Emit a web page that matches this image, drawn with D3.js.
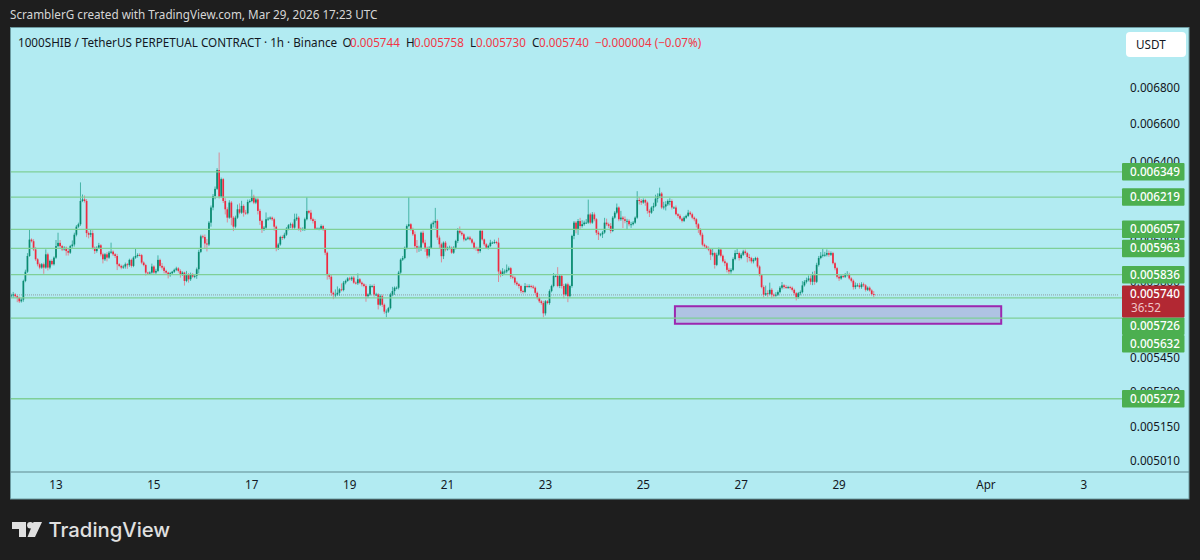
<!DOCTYPE html>
<html><head><meta charset="utf-8">
<script src="https://d3js.org/d3.v7.min.js"></script>
<style>
html,body{margin:0;padding:0;background:#1e1e1e;overflow:hidden}
svg{display:block}
text{font-family:"Noto Sans",sans-serif}
</style></head><body>
<svg id="c" width="1200" height="560"></svg>
<script>
// Prices are in millionths (5740 = 0.005740)
const lastTime = Date.UTC(2026, 2, 29, 17);
const closes = [
5738,5742,5734,5726,5710,5718,5806,5850,5926,6006,5998,5958,5910,5886,5870,5886,5870,5934,5870,
5902,5886,5918,5974,5990,5974,5958,5966,5950,5942,5974,5982,6030,6070,6082,6199,6207,6199,6038,6030,
6038,5966,5950,5966,5978,5934,5910,5934,5918,5942,5947,5934,5926,5886,5878,5870,5875,5886,5882,5907,
5878,5918,5926,5931,5930,5894,5882,5846,5843,5846,5875,5846,5854,5907,5878,5870,5854,5846,5834,5843,
5850,5859,5866,5854,5838,5846,5806,5838,5814,5838,5827,5830,5862,5946,6022,6019,5987,5982,6090,6166,
6224,6261,6358,6221,6311,6199,6157,6115,6191,6115,6070,6115,6157,6140,6174,6140,6137,6194,6199,6221,6191,
6207,6149,6099,6057,6065,6107,6110,6115,6107,6070,5963,5982,6019,6014,6030,6060,6077,6082,6065,6107,
6115,6060,6057,6057,6107,6148,6140,6107,6098,6060,6060,6060,6073,6057,5942,5834,5826,5750,5742,5742,5750,
5766,5763,5798,5806,5818,5814,5822,5798,5795,5814,5798,5790,5782,5734,5742,5782,5782,5742,5742,5694,
5734,5694,5662,5662,5678,5742,5758,5774,5774,5846,5908,5916,5966,6073,6082,6057,6032,5974,5966,5966,
6040,5991,5966,5928,5966,6082,6090,6098,6016,5983,5925,5991,5958,5966,5966,5942,5966,5999,6049,6040,
6032,6007,6010,6016,6007,5991,5966,5961,5950,6049,6007,5983,5966,5975,5991,5991,5994,5991,5851,5838,
5851,5851,5859,5867,5826,5822,5798,5790,5782,5758,5754,5782,5779,5782,5779,5774,5750,5726,5710,5702,
5654,5710,5702,5758,5782,5830,5830,5782,5830,5782,5742,5790,5734,5782,6024,6090,6057,6098,6073,6082,
6090,6090,6131,6090,6131,6107,6040,6032,6032,6041,6090,6082,6074,6049,6115,6140,6166,6107,6115,6107,
6099,6099,6082,6082,6090,6115,6204,6199,6191,6204,6191,6149,6140,6166,6174,6211,6224,6237,6166,6171,
6182,6199,6199,6166,6166,6132,6124,6110,6099,6115,6124,6140,6132,6115,6107,6082,6057,6030,5981,5973,
5965,5957,5932,5940,5883,5932,5957,5927,5900,5891,5859,5851,5859,5911,5940,5940,5916,5932,5948,5940,
5921,5916,5900,5908,5916,5875,5834,5777,5741,5748,5745,5764,5741,5737,5741,5753,5774,5785,5777,5774,
5777,5774,5764,5748,5728,5748,5753,5785,5802,5810,5818,5802,5834,5802,5883,5916,5927,5932,5932,5940,
5932,5940,5891,5867,5826,5818,5829,5826,5834,5839,5818,5807,5777,5785,5785,5777,5790,5785,5764,5774,
5761,5744,5740];
const wickUp = [
8,12,6,4,6,8,6,10,14,50,6,10,12,6,8,6,8,24,8,
6,8,6,30,50,14,6,8,6,10,6,20,10,8,8,95,25,20,10,8,
16,14,6,8,12,6,8,6,10,8,44,6,6,10,6,6,8,8,6,6,
6,6,34,8,8,6,6,6,4,6,14,6,10,22,6,14,8,6,4,6,
4,6,8,6,8,6,4,16,6,8,6,6,8,10,8,8,12,22,8,10,
10,12,10,92,8,6,14,10,12,8,8,10,24,30,26,8,14,12,8,36,10,
8,8,10,6,8,34,8,6,6,8,6,8,6,8,10,8,6,8,8,28,
20,8,6,10,8,70,6,14,8,10,6,6,8,6,6,6,8,10,6,24,30,
6,28,8,6,6,8,6,8,6,28,6,6,6,8,6,8,6,10,8,6,
8,8,6,10,6,8,20,6,6,8,6,10,6,8,137,6,8,14,30,10,
6,10,14,6,8,8,10,66,8,10,8,6,8,6,10,6,8,6,14,22,
8,6,6,6,8,6,6,6,10,6,6,4,6,6,14,6,12,6,24,8,
16,10,26,8,6,8,6,8,6,6,6,14,8,8,6,8,6,6,6,6,
10,6,6,8,6,14,8,42,8,8,10,6,8,6,6,8,8,10,16,20,
10,18,75,8,12,10,6,10,6,8,24,20,8,14,8,8,20,6,34,8,
14,10,8,12,8,6,45,16,10,8,6,6,8,6,16,20,14,30,8,24,
16,8,14,8,6,10,6,8,6,8,6,14,8,8,6,6,6,6,10,6,
6,8,6,24,6,10,10,8,6,10,6,10,8,8,14,24,8,8,8,10,
6,14,6,8,6,6,6,6,8,36,14,34,8,6,12,8,8,16,6,10,
6,6,6,6,6,6,8,20,8,12,14,14,16,20,10,10,18,28,14,18,
12,8,6,6,6,8,8,6,10,14,6,6,6,14,10,12,10,8,6,6,
6,6,14];
const wickDown = [
8,12,6,20,8,6,10,6,6,4,6,8,8,10,8,6,30,6,14,
8,6,6,6,6,8,8,6,22,14,6,8,10,8,6,8,6,8,20,18,
12,8,14,8,6,10,20,8,18,6,6,8,10,28,6,8,6,10,18,8,
8,6,6,8,6,8,6,14,6,8,6,6,8,6,8,10,12,6,16,8,
6,6,6,8,16,8,22,6,16,8,6,8,14,20,6,8,22,34,8,20,
14,16,6,10,6,10,26,24,6,38,22,8,6,8,6,20,8,6,6,6,8,
8,18,20,18,8,6,8,6,8,20,14,8,6,10,6,6,8,14,8,6,
8,10,14,6,8,6,8,8,12,6,6,8,6,8,12,22,12,14,22,14,6,
14,6,6,8,4,6,8,6,6,8,6,10,6,26,8,6,8,10,8,22,
6,10,10,26,6,6,8,18,8,8,6,6,6,8,6,8,8,10,24,20,
16,8,20,14,8,6,16,28,12,22,30,14,10,6,8,6,6,8,10,8,
8,10,8,6,6,8,8,10,12,8,6,8,6,8,6,6,6,8,50,14,
8,14,8,6,10,8,10,8,12,10,8,6,6,6,8,6,8,8,8,8,
18,10,6,8,6,6,6,6,10,12,18,8,28,6,8,16,20,28,14,8,
8,6,6,8,6,10,12,28,10,18,6,8,10,12,6,6,8,10,8,44,
12,44,10,18,6,6,6,18,12,6,16,14,22,6,18,6,20,10,8,10,
20,8,22,10,6,6,10,6,8,6,6,6,6,8,10,16,18,8,8,6,
6,8,26,8,18,6,6,8,6,14,12,16,10,6,6,6,12,6,6,8,
26,16,10,10,6,8,6,6,12,6,14,6,16,8,6,6,6,8,8,6,
6,8,8,10,14,6,10,6,6,8,6,14,16,14,6,8,6,8,10,8,
10,6,6,10,8,12,6,6,6,6,6,8,12,10,6,8,8,8,8,6,
6,6,10];
const firstOpen = 5734;

const levels = [6349, 6219, 6057, 5963, 5836, 5726, 5632, 5272];
const priceTicks = [6800, 6600, 6400, 6200, 6000, 5800, 5600, 5450, 5300, 5150, 5010];
const lastPrice = 5740;
const countdown = "36:52";
const zoneHigh = 5687, zoneLow = 5606;
const zoneStart = Date.UTC(2026, 2, 25, 15, 30), zoneEnd = Date.UTC(2026, 3, 1, 7, 30);
const dayTicks = [[2,13,"13"],[2,15,"15"],[2,17,"17"],[2,19,"19"],[2,21,"21"],[2,23,"23"],[2,25,"25"],[2,27,"27"],[2,29,"29"],[3,1,"Apr"],[3,3,"3"]];
const titleText = "1000SHIB / TetherUS PERPETUAL CONTRACT · 1h · Binance";
const ohlcLabels = [["O","0.005744"],["H","0.005758"],["L","0.005730"],["C","0.005740"]];
const changeLabel = "−0.000004 (−0.07%)";
const headerText = "ScramblerG created with TradingView.com, Mar 29, 2026 17:23 UTC";

const W = 1200, H = 560, FS = 11.7;
const pane = {l:10.5, t:27.5, r:1189, b:499, axis:472, labelX:1122, labelR:1184.5};
const x = d3.scaleTime().domain([Date.UTC(2026,2,13), Date.UTC(2026,3,3)]).range([56, 1083.8]);
const y = d3.scaleLog().domain([5010, 6800]).range([461, 88]);
const fmt = v => (v/1e6).toFixed(6);

const svg = d3.select("#c");
svg.append("rect").attr("width",W).attr("height",H).attr("fill","#1e1e1e");
svg.append("text").attr("x",10).attr("y",19).attr("fill","#d6d6d6").attr("font-size",FS).text(headerText);
svg.append("rect").attr("x",pane.l).attr("y",pane.t).attr("width",pane.r-pane.l).attr("height",pane.b-pane.t).attr("fill","#b2ebf2").attr("stroke","#6c9aa0").attr("stroke-width",1);
svg.append("line").attr("x1",pane.l).attr("x2",pane.r).attr("y1",pane.axis).attr("y2",pane.axis).attr("stroke","#5f8a90").attr("stroke-width",1.2);

svg.append("defs").append("clipPath").attr("id","plot").append("rect").attr("x",11).attr("y",28).attr("width",1108).attr("height",444);
const plot = svg.append("g").attr("clip-path","url(#plot)");

// tick labels
svg.append("g").selectAll("text").data(priceTicks).join("text")
  .attr("x",1180).attr("y",d=>y(d)+4).attr("text-anchor","end").attr("font-size",FS).attr("fill","#131722")
  .text(fmt);

// levels
svg.append("g").selectAll("line").data(levels).join("line")
  .attr("x1",11).attr("x2",pane.labelX).attr("y1",d=>y(d)).attr("y2",d=>y(d))
  .attr("stroke","#7fcf97").attr("stroke-width",1.3);

// current price line
plot.append("line").attr("x1",11).attr("x2",1122).attr("y1",y(lastPrice)).attr("y2",y(lastPrice))
  .attr("stroke","#8f9ea3").attr("stroke-width",1).attr("stroke-dasharray","1 1");

// zone
plot.append("rect").attr("x",x(zoneStart)).attr("y",y(zoneHigh)).attr("width",x(zoneEnd)-x(zoneStart)).attr("height",y(zoneLow)-y(zoneHigh))
  .attr("fill","#aa87cc").attr("fill-opacity",0.4).attr("stroke","#9c27b0").attr("stroke-width",2);

// candles
const candles = closes.map((c,i)=>{
  const o = i ? closes[i-1] : firstOpen;
  return {t:lastTime-(closes.length-1-i)*3600e3,o,c,h:Math.max(o,c)+wickUp[i],l:Math.min(o,c)-wickDown[i]};
});
const cg = plot.append("g");
const colUp = "#0a8a70", colDn = "#ee2a40";
cg.selectAll("line").data(candles).join("line")
  .attr("x1",d=>x(d.t)).attr("x2",d=>x(d.t)).attr("y1",d=>y(d.h)).attr("y2",d=>y(d.l))
  .attr("stroke",d=>d.c>=d.o?"#22a08c":"#e86a78").attr("stroke-width",1).attr("stroke-opacity",0.75);
cg.selectAll("rect").data(candles).join("rect")
  .attr("x",d=>x(d.t)-0.85).attr("width",1.7)
  .attr("y",d=>y(Math.max(d.o,d.c))).attr("height",d=>Math.max(0.9,Math.abs(y(d.o)-y(d.c))))
  .attr("fill",d=>d.c>=d.o?colUp:colDn);

// axis labels
svg.append("g").selectAll("text").data(dayTicks).join("text")
  .attr("x",d=>x(Date.UTC(2026,d[0],d[1]))).attr("y",489).attr("text-anchor","middle").attr("font-size",FS).attr("fill","#131722")
  .text(d=>d[2]);

// price labels, pushed below the current price box when they collide
const boxH = 17.5, curTop = y(lastPrice)-9.5, curBot = curTop+32;
let cursor = -1e9;
const lab = svg.append("g");
levels.forEach(p=>{
  let cy = y(p);
  if (cy+boxH/2 > curTop && cy-boxH/2 < curBot) cy = Math.max(curBot, cursor)+boxH/2;
  else if (cy-boxH/2 < cursor && cy > curTop) cy = cursor+boxH/2;
  cursor = cy+boxH/2;
  lab.append("rect").attr("x",pane.labelX).attr("y",cy-boxH/2).attr("width",pane.labelR-pane.labelX).attr("height",boxH).attr("rx",1).attr("fill","#4caf50");
  lab.append("text").attr("x",1180).attr("y",cy+4).attr("text-anchor","end").attr("font-size",FS).attr("font-weight",500).attr("fill","#fff").text(fmt(p));
});
lab.append("rect").attr("x",pane.labelX).attr("y",curTop).attr("width",pane.labelR-pane.labelX).attr("height",32).attr("rx",1).attr("fill","#b22833");
lab.append("text").attr("x",1180).attr("y",curTop+13).attr("text-anchor","end").attr("font-size",FS).attr("font-weight",500).attr("fill","#fff").text(fmt(lastPrice));
lab.append("text").attr("x",1131).attr("y",curTop+27).attr("font-size",FS).attr("fill","#f0c4c8").text(countdown);

// USDT
svg.append("rect").attr("x",1126).attr("y",32).attr("width",60).attr("height",25).attr("rx",4).attr("fill","#fff");
svg.append("text").attr("x",1136).attr("y",49).attr("font-size",FS).attr("fill","#131722").text("USDT");

// legend
svg.append("text").attr("x",18).attr("y",47).attr("font-size",FS).attr("fill","#131722").text(titleText);
const ohlcX = [[342.5,350],[406,414],[470,476],[532,539]];
ohlcLabels.forEach((d,i)=>{
  svg.append("text").attr("x",ohlcX[i][0]).attr("y",47).attr("font-size",FS).attr("fill","#131722").text(d[0]);
  svg.append("text").attr("x",ohlcX[i][1]).attr("y",47).attr("font-size",FS).attr("fill","#f23645").text(d[1]);
});
svg.append("text").attr("x",595).attr("y",47).attr("font-size",FS).attr("fill","#f23645").text(changeLabel);

// logo
const logo = svg.append("g").attr("fill","#e0e0e0");
logo.append("path").attr("d","M12 522H26V537H19V529H12Z");
logo.append("circle").attr("cx",30.3).attr("cy",525.2).attr("r",3.2);
logo.append("path").attr("d","M33.5 522H42L35 537H27.5Z");
svg.append("text").attr("x",48.5).attr("y",537).attr("font-size",20.3).attr("font-weight",500).attr("style","font-family:Inter").attr("fill","#e0e0e0").text("TradingView");
</script>
</body></html>
